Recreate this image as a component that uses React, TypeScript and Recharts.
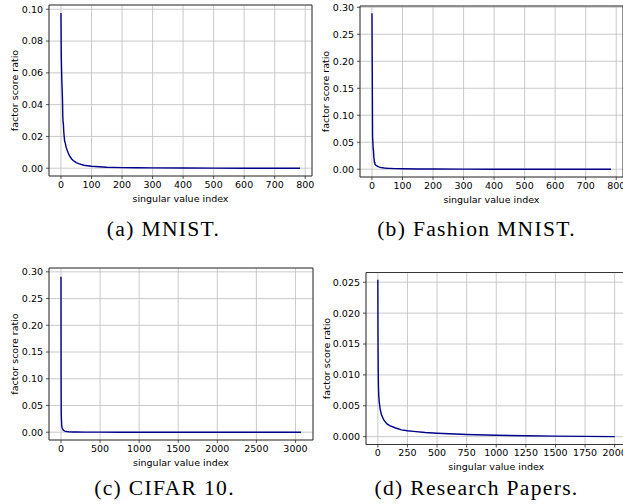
import { CartesianGrid, Label, Line, LineChart, ReferenceArea, XAxis, YAxis } from "recharts";

// values (sparse samples along each curve)
const mnistIndex = [0, 1, 2, 3, 4, 5, 6, 7, 8, 9, 10, 12, 14, 17, 20, 25, 30, 35, 40, 50, 60, 75, 100, 125, 150, 200, 250, 300, 400, 500, 600, 700, 783];
const mnistRatio = [0.0977, 0.071, 0.0617, 0.0539, 0.0487, 0.0431, 0.0327, 0.0288, 0.0276, 0.0236, 0.0211, 0.0171, 0.0158, 0.0132, 0.0115, 0.009, 0.0072, 0.0058, 0.0048, 0.0035, 0.0027, 0.0019, 0.0012, 0.0009, 0.0006, 0.0004, 0.0003, 0.0002, 0.0001, 0.00005, 0.00002, 0.00001, 0.0];

const fashionIndex = [0, 1, 2, 3, 4, 5, 6, 7, 8, 9, 10, 12, 15, 20, 25, 30, 40, 50, 75, 100, 150, 200, 300, 400, 500, 600, 700, 783];
const fashionRatio = [0.289, 0.177, 0.06, 0.05, 0.038, 0.034, 0.023, 0.019, 0.013, 0.013, 0.009, 0.008, 0.0065, 0.0048, 0.0038, 0.0031, 0.0023, 0.0018, 0.0011, 0.0008, 0.0005, 0.0003, 0.00015, 0.00008, 0.00004, 0.00002, 0.00001, 0.0];

const cifarIndex = [0, 1, 2, 3, 4, 5, 6, 7, 8, 9, 10, 12, 15, 20, 30, 40, 50, 75, 100, 150, 200, 300, 500, 750, 1000, 1500, 2000, 2500, 3071];
const cifarRatio = [0.291, 0.113, 0.067, 0.036, 0.031, 0.025, 0.022, 0.02, 0.015, 0.013, 0.012, 0.01, 0.008, 0.006, 0.0037, 0.0027, 0.002, 0.0012, 0.0008, 0.0004, 0.00025, 0.00012, 0.00005, 0.00002, 0.00001, 0.000005, 0.000002, 0.000001, 0.0];

const papersIndex = [0, 1, 2, 3, 5, 8, 12, 20, 30, 50, 75, 100, 150, 200, 250, 300, 400, 500, 750, 1000, 1250, 1500, 1750, 2000];
const papersRatio = [0.0254, 0.018, 0.014, 0.0112, 0.0082, 0.0066, 0.0056, 0.0044, 0.0036, 0.0027, 0.0021, 0.0018, 0.0014, 0.0011, 0.00095, 0.00085, 0.00068, 0.00056, 0.00036, 0.00023, 0.00014, 0.00008, 0.00004, 0.0];

const ticks784 = [0, 100, 200, 300, 400, 500, 600, 700, 800];
const ticksCifar = [0, 500, 1000, 1500, 2000, 2500, 3000];
const ticksPapers = [0, 250, 500, 750, 1000, 1250, 1500, 1750, 2000];
const ticksMnistY = [0, 0.02, 0.04, 0.06, 0.08, 0.1];
const ticksWideY = [0, 0.05, 0.1, 0.15, 0.2, 0.25, 0.3];
const ticksPapersY = [0, 0.005, 0.01, 0.015, 0.02, 0.025];

const toRows = (index: number[], ratio: number[]) => index.map((i, k) => ({ i, ratio: ratio[k] }));

type PanelProps = {
  rows: { i: number; ratio: number }[];
  xDomain: [number, number];
  yDomain: [number, number];
  xTicks: number[];
  yTicks: number[];
  digits: number;
  left: number;
  top: number;
  marginTop: number;
  marginRight: number;
  yWidth: number;
  yLabelOffset: number;
};

const FONT = 9.5;
const INK = "#000";
const SPINE = "#262626";

function Panel(p: PanelProps) {
  const width = 320;
  const height = p.marginTop + (p.top === 0 ? 171 : 172) + 30;
  return (
    <div style={{ position: "absolute", left: p.left, top: p.top }}>
      <LineChart
        width={width}
        height={height}
        data={p.rows}
        margin={{ top: p.marginTop, right: p.marginRight, bottom: 0, left: 0 }}
      >
        <CartesianGrid stroke="#c4c4c4" strokeWidth={0.9} />
        <XAxis
          type="number"
          dataKey="i"
          domain={p.xDomain}
          ticks={p.xTicks}
          interval={0}
          allowDataOverflow
          axisLine={false}
          tickSize={3}
          tickMargin={2}
          tickLine={{ stroke: SPINE, strokeWidth: 0.8 }}
          tick={{ fontSize: FONT, fill: INK }}
          height={30}
        >
          <Label value="singular value index" position="insideBottom" offset={4.5} fontSize={FONT} fill={INK} />
        </XAxis>
        <YAxis
          type="number"
          domain={p.yDomain}
          ticks={p.yTicks}
          interval={0}
          allowDataOverflow
          axisLine={false}
          tickSize={3}
          tickMargin={3}
          tickLine={{ stroke: SPINE, strokeWidth: 0.8 }}
          tick={{ fontSize: FONT, fill: INK }}
          tickFormatter={(v: number) => v.toFixed(p.digits)}
          width={p.yWidth}
        >
          <Label
            value="factor score ratio"
            angle={-90}
            position="insideLeft"
            offset={p.yLabelOffset}
            fontSize={FONT}
            fill={INK}
            style={{ textAnchor: "middle" }}
          />
        </YAxis>
        <ReferenceArea
          x1={p.xDomain[0]}
          x2={p.xDomain[1]}
          y1={p.yDomain[0]}
          y2={p.yDomain[1]}
          fill="none"
          stroke={SPINE}
          strokeWidth={0.9}
          ifOverflow="visible"
        />
        <Line
          type="linear"
          dataKey="ratio"
          stroke="#00008b"
          strokeWidth={1.4}
          dot={false}
          isAnimationActive={false}
        />
      </LineChart>
    </div>
  );
}

const captions = [
  { text: "(a) MNIST.", x: 163.5, y: 236 },
  { text: "(b) Fashion MNIST.", x: 476.5, y: 236 },
  { text: "(c) CIFAR 10.", x: 164.5, y: 495 },
  { text: "(d) Research Papers.", x: 476.5, y: 495 },
];

export default function App() {
  return (
    <div
      style={{
        position: "absolute",
        left: 0,
        top: 0,
        width: 623,
        height: 504,
        overflow: "hidden",
        background: "#fff",
        fontFamily: "'DejaVu Sans', sans-serif",
      }}
    >
      <Panel
        rows={toRows(mnistIndex, mnistRatio)}
        xDomain={[-39.2, 822.2]}
        yDomain={[-0.0049, 0.1027]}
        xTicks={ticks784}
        yTicks={ticksMnistY}
        digits={2}
        left={0}
        top={0}
        marginTop={5}
        marginRight={8}
        yWidth={49}
        yLabelOffset={15}
      />
      <Panel
        rows={toRows(fashionIndex, fashionRatio)}
        xDomain={[-39.2, 822.2]}
        yDomain={[-0.0144, 0.3024]}
        xTicks={ticks784}
        yTicks={ticksWideY}
        digits={2}
        left={310}
        top={0}
        marginTop={6}
        marginRight={7}
        yWidth={50}
        yLabelOffset={16}
      />
      <Panel
        rows={toRows(cifarIndex, cifarRatio)}
        xDomain={[-153.6, 3224.6]}
        yDomain={[-0.0146, 0.3072]}
        xTicks={ticksCifar}
        yTicks={ticksWideY}
        digits={2}
        left={0}
        top={250}
        marginTop={18}
        marginRight={7}
        yWidth={49}
        yLabelOffset={15}
      />
      <Panel
        rows={toRows(papersIndex, papersRatio)}
        xDomain={[-100, 2100]}
        yDomain={[-0.00127, 0.02658]}
        xTicks={ticksPapers}
        yTicks={ticksPapersY}
        digits={3}
        left={310}
        top={250}
        marginTop={22.5}
        marginRight={3.5}
        yWidth={56}
        yLabelOffset={16.6}
      />
      <svg width={623} height={504} style={{ position: "absolute", left: 0, top: 0, pointerEvents: "none" }}>
        {captions.map((c) => (
          <text
            key={c.text}
            x={c.x}
            y={c.y}
            textAnchor="middle"
            fontFamily="'Liberation Serif', serif"
            fontSize={21.6}
            letterSpacing={1.3}
            fill={INK}
          >
            {c.text}
          </text>
        ))}
      </svg>
    </div>
  );
}
